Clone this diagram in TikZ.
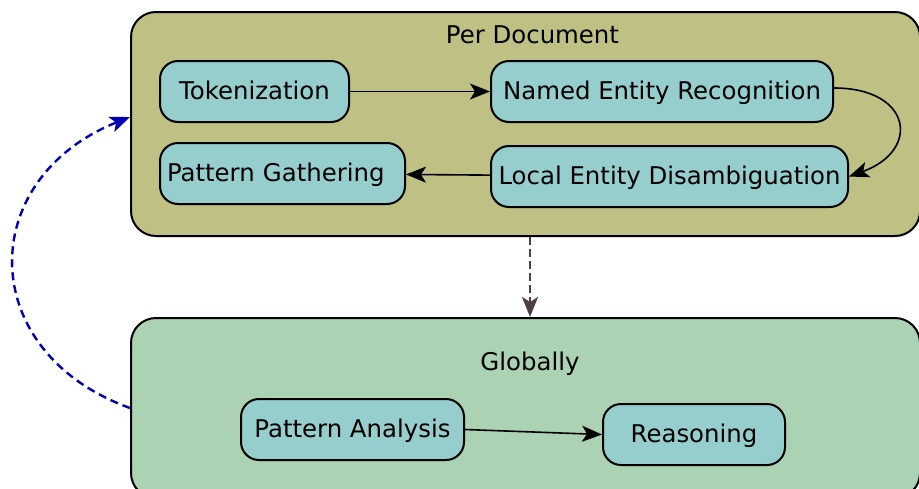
\documentclass[tikz,border=0pt]{standalone}
\usepackage{fontspec}
\setmainfont{DejaVu Sans}
\usetikzlibrary{arrows.meta}

\definecolor{docfill}{HTML}{BFC084}
\definecolor{globfill}{HTML}{ABD3B3}
\definecolor{stagefill}{HTML}{96CECE}
\definecolor{loopblue}{HTML}{0000B4}
\definecolor{flowgray}{HTML}{4E3F47}

\tikzset{
  txt/.style={font=\fontsize{12.2}{14}\selectfont, text height=8.4pt, text depth=0pt},
  phase/.style={draw=black, line width=1pt, rounded corners=12.5pt,
    minimum width=394.5pt, inner sep=0pt},
  stagebox/.style={txt, draw=black, fill=stagefill, line width=1pt,
    rounded corners=9pt, minimum height=30.5pt, inner sep=0pt},
  tip/.style={-{Stealth[length=10pt,width=8pt,inset=2.5pt]}},
  flow/.style={tip, line width=0.8pt, black},
}

\begin{document}
\begin{tikzpicture}[x=0.5pt, y=-0.5pt]
  \useasboundingbox (0,0) rectangle (919,488);
  \clip (0,0) rectangle (919,488);

  % the two processing phases
  \node[phase, fill=docfill, minimum height=112pt] (doc) at (525.5,124) {};
  \node[phase, fill=globfill, minimum height=90pt] (glob) at (525.5,408) {};

  \node[txt] (doctitle) at (532.5,35) {Per Document};
  \node[txt] (globtitle) at (530,362) {Globally};

  % per-document stages
  \node[stagebox, minimum width=94.5pt] (tok) at (254.5,91.5) {Tokenization};
  \node[stagebox, minimum width=171pt] (ner) at (662,91.5) {Named Entity Recognition};
  \node[stagebox, minimum width=178.5pt] (led) at (669.5,176.5) {Local Entity Disambiguation};
  \node[stagebox, inner xsep=3.5pt, text width=115.5pt, align=left] (pg) at (282.5,173.5) {Pattern Gathering};

  % global stages
  \node[stagebox, minimum width=111.5pt] (pa) at (352.5,429.5) {Pattern Analysis};
  \node[stagebox, minimum width=91pt] (rea) at (694,434.5) {Reasoning};

  % connectors
  \draw[flow] (tok) -- (ner);
  \draw[flow] ([yshift=1.75pt]ner.east) .. controls +(78,0) and +(72,-26) .. (led.east);
  \draw[flow] (led) -- (pg);
  \draw[flow] (pa.east) -- (rea.west);

  \coordinate (docout) at ([xshift=2.25pt]doc.south);
  \coordinate (globin) at ([xshift=2.25pt]glob.north);
  \draw[tip, line width=1.2pt, flowgray, dash pattern=on 4pt off 2pt] (docout) -- (globin);

  \draw[tip, line width=1.2pt, loopblue, dash pattern=on 4pt off 2.5pt]
    (glob.west) .. controls +(-155,-56) and +(-155,62) .. ([yshift=3.5pt]doc.west);
\end{tikzpicture}
\end{document}
